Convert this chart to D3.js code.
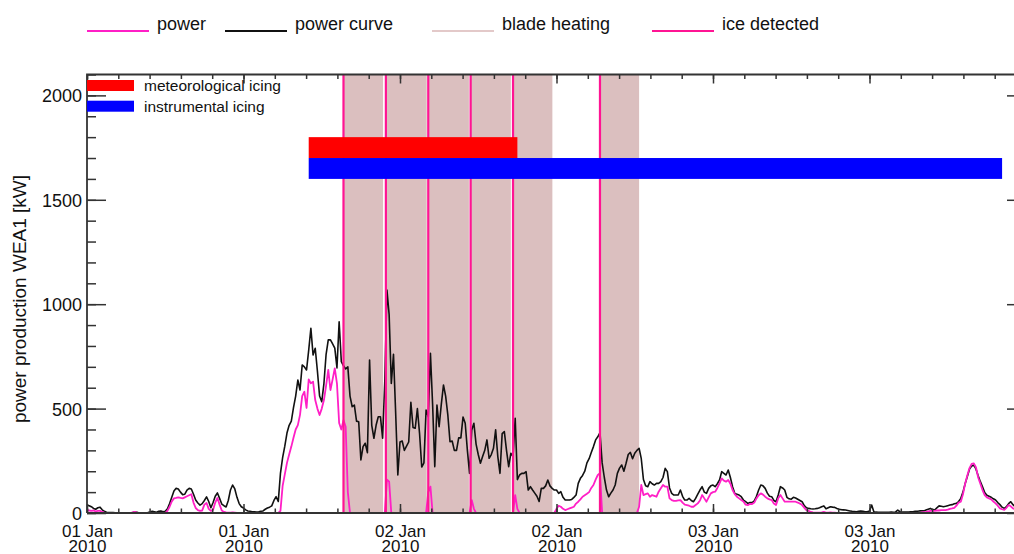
<!DOCTYPE html>
<html>
<head>
<meta charset="utf-8">
<script src="https://cdn.jsdelivr.net/npm/d3@7"></script>
<style>
body { margin: 0; background: #fff; }
svg { display: block; font-family: "Liberation Sans", Arial, Helvetica, sans-serif; }
</style>
</head>
<body>
<svg width="1014" height="554"></svg>
<script>
// 10-minute values, starting 01 Jan 2010 00:00 (UTC)
var startTime = '2010-01-01 00:00';
var endTime = '2010-01-04 00:00';
var stepMinutes = 10;

var powerCurve = [
  38, 35, 30, 22, 18, 25,   28, 15, 8, 4, 2, 2,   2, 1, 0, 0, 0, 0,   0, 0, 0, 2, 5, 3,
  0, 0, 0, 0, 2, 5,   8, 6, 4, 8, 10, 6,   8, 20, 45, 75, 105, 118,   115, 100, 88, 90, 110, 118,
  115, 90, 62, 48, 38, 45,   60, 77, 55, 25, 50, 80,   96, 70, 43, 35, 29, 60,   110, 134, 115, 75, 45, 30,
  24, 15, 10, 8, 6, 6,   5, 6, 8, 10, 18, 24,   28, 34, 60, 78, 55, 190,   265, 320, 383, 420, 440, 505,
  560, 637, 589, 709, 700, 685,   780, 885, 757, 789, 680, 560,   533, 620, 760, 829, 829, 810,   790, 695, 916, 725, 705, 690,
  700, 560, 509, 517, 440, 437,   254, 318, 334, 289, 733, 420,   358, 420, 461, 461, 358, 630,   1068, 950, 620, 760, 480, 182,
  340, 345, 300, 320, 340, 530,   410, 406, 500, 380, 220, 240,   493, 461, 765, 520, 222, 517,   413, 520, 613, 560, 470, 341,
  345, 300, 300, 360, 360, 460,   430, 300, 190, 398, 430, 330,   280, 238, 270, 300, 350, 262,   280, 310, 398, 270, 190, 380,
  390, 300, 222, 286, 270, 454,   160, 182, 190, 190, 198, 110,   126, 110, 95, 80, 55, 118,   118, 130, 158, 130, 118, 110,
  110, 94, 102, 75, 62, 62,   62, 65, 75, 86, 142, 166,   180, 200, 240, 260, 290, 318,   350, 365, 385, 240, 170, 110,
  78, 95, 110, 134, 190, 215,   230, 200, 238, 280, 290, 260,   286, 300, 310, 260, 160, 130,   126, 150, 140, 134, 142, 142,
  150, 170, 214, 198, 120, 94,   86, 86, 86, 110, 80, 62,   62, 70, 60, 54, 70, 90,   110, 126, 100, 94, 118, 130,
  134, 126, 140, 158, 198, 190,   182, 206, 170, 126, 94, 90,   86, 78, 62, 54, 46, 50,   50, 58, 80, 110, 134, 130,
  118, 95, 80, 78, 60, 54,   86, 126, 120, 110, 75, 68,   66, 75, 72, 66, 60, 54,   35, 25, 22, 20, 19, 20,
  22, 25, 30, 34, 20, 25,   30, 28, 27, 22, 18, 16,   15, 14, 12, 10, 8, 7,   6, 8, 10, 8, 6, 6,
  10, 38, 6, 4, 3, 3,   3, 3, 3, 3, 4, 3,   5, 14, 6, 4, 4, 5,   5, 6, 6, 8, 8, 10,
  10, 10, 14, 18, 22, 16,   14, 25, 34, 32, 30, 32,   35, 38, 40, 44, 46, 55,   70, 100, 140, 175, 210, 225,
  230, 210, 178, 150, 125, 98,   85, 80, 75, 68, 62, 50,   40, 28, 22, 30, 45, 54,   40, 30, 25, 20, 18, 15,
  15
];

var power = [
  14, 12, 10, 12, 8, 10,   10, 5, 2, 0, 0, 0,   0, 0, 0, 0, 0, 0,   0, 0, 0, 3, 5, 2,
  0, 0, 0, 0, 0, 0,   0, 0, 0, 0, 0, 0,   0, 10, 30, 55, 70, 72,   75, 72, 70, 75, 80, 85,
  90, 50, 24, 14, 10, 12,   40, 48, 20, 10, 15, 50,   72, 40, 12, 5, 3, 2,   2, 3, 2, 1, 0, 0,
  0, 0, 0, 0, 0, 0,   0, 0, 0, 0, 0, 0,   0, 0, 0, 0, 0, 10,   130, 185, 240, 280, 318, 360,
  400, 421, 470, 560, 581, 503,   640, 621, 629, 541, 500, 469,   500, 541, 610, 685, 589, 640,   693, 620, 431, 400, 445, 413,
  100, 0, 0, 0, 0, 0,   0, 0, 0, 0, 0, 0,   0, 0, 0, 0, 0, 0,   160, 150, 0, 0, 0, 0,
  0, 0, 0, 0, 0, 0,   0, 0, 0, 0, 0, 0,   0, 100, 126, 0, 0, 0,   0, 0, 0, 0, 0, 0,
  0, 0, 0, 0, 0, 0,   0, 0, 0, 62, 20, 0,   0, 0, 0, 0, 0, 0,   0, 0, 0, 0, 0, 0,
  0, 0, 0, 0, 0, 86,   20, 0, 0, 0, 0, 0,   0, 0, 0, 0, 0, 0,   0, 0, 0, 0, 0, 0,
  20, 35, 30, 20, 14, 18,   22, 26, 30, 45, 54, 65,   78, 85, 92, 100, 120, 134,   160, 182, 190, 0, 0, 0,
  0, 0, 0, 0, 0, 0,   0, 0, 0, 0, 0, 0,   0, 0, 30, 134, 86, 90,   94, 78, 86, 82, 78, 102,
  118, 134, 126, 126, 70, 62,   58, 58, 60, 62, 50, 40,   38, 35, 30, 30, 38, 46,   60, 86, 70, 54, 75, 94,
  100, 102, 120, 142, 166, 155,   150, 158, 140, 110, 90, 78,   70, 62, 55, 40, 38, 43,   43, 50, 70, 85, 94, 88,
  78, 70, 65, 62, 45, 38,   70, 86, 70, 54, 54, 54,   54, 54, 54, 50, 45, 38,   25, 14, 10, 5, 3, 2,
  2, 2, 3, 5, 2, 2,   3, 2, 2, 1, 0, 0,   0, 0, 0, 0, 0, 0,   0, 0, 0, 0, 0, 0,
  0, 0, 0, 0, 0, 0,   0, 0, 0, 0, 0, 0,   0, 0, 0, 0, 0, 0,   0, 0, 0, 0, 0, 0,
  3, 4, 5, 8, 10, 10,   10, 12, 12, 14, 14, 14,   16, 20, 22, 25, 35, 50,   54, 90, 140, 180, 215, 235,
  238, 218, 170, 140, 110, 86,   75, 70, 65, 55, 46, 35,   22, 18, 15, 25, 38, 32,   22, 18, 15, 12, 10, 8,
  8
];

var heatStart = ['2010-01-01 19:40', '2010-01-01 22:55', '2010-01-02 02:10', '2010-01-02 05:25', '2010-01-02 08:40', '2010-01-02 15:20'];
var heatEnd   = ['2010-01-01 22:42', '2010-01-02 02:03', '2010-01-02 05:17', '2010-01-02 08:30', '2010-01-02 11:41', '2010-01-02 18:20'];
var iceDetected = ['2010-01-01 19:40', '2010-01-01 22:55', '2010-01-02 02:10', '2010-01-02 05:25', '2010-01-02 08:40', '2010-01-02 15:20'];

var icingNames = ['meteorological icing', 'instrumental icing'];
var icingStart = ['2010-01-01 17:00', '2010-01-01 17:00'];
var icingEnd = ['2010-01-02 09:00', '2010-01-03 22:10'];
var icingLow = [1700, 1600];
var icingHigh = [1800, 1700];
var icingColors = ['#ff0000', '#0000ff'];

var yMajor = [0, 500, 1000, 1500, 2000];
var legendNames = ['power', 'power curve', 'blade heating', 'ice detected'];
var legendColors = ['#ff1fc6', '#111111', '#e3c9c9', '#ff1493'];
var legendX = [87, 225, 432, 652];

var parse = d3.utcParse('%Y-%m-%d %H:%M');
var t0 = parse(startTime);
var t1 = parse(endTime);

var pLeft = 87, pRight = 1026, pTop = 74.5, pBottom = 513;

var svg = d3.select('svg');
var x = d3.scaleUtc().domain([t0, t1]).range([pLeft, pRight]);
var y = d3.scaleLinear().domain([0, 2100]).range([pBottom, pTop]);

var timeAt = function (i) { return new Date(+t0 + i * stepMinutes * 60000); };

svg.append('clipPath').attr('id', 'plot')
  .append('rect').attr('x', pLeft).attr('y', pTop)
  .attr('width', pRight - pLeft).attr('height', pBottom - pTop);

var plot = svg.append('g').attr('clip-path', 'url(#plot)');

// blade heating periods
plot.selectAll('rect.heat')
  .data(heatStart)
  .enter().append('rect')
  .attr('class', 'heat')
  .attr('x', function (d) { return x(parse(d)); })
  .attr('y', pTop)
  .attr('width', function (d, i) { return x(parse(heatEnd[i])) - x(parse(d)); })
  .attr('height', pBottom - pTop)
  .style('fill', '#dbbfbf');

var line = d3.line()
  .x(function (d, i) { return x(timeAt(i)); })
  .y(function (d) { return y(d); });

plot.append('path').datum(powerCurve)
  .attr('d', line)
  .style('fill', 'none').style('stroke', '#111').style('stroke-width', 1.6)
  .style('stroke-linejoin', 'round');

plot.append('path').datum(power)
  .attr('d', line)
  .style('fill', 'none').style('stroke', '#ff1fc6').style('stroke-width', 1.8)
  .style('stroke-linejoin', 'round');

// ice detection events
plot.selectAll('line.ice')
  .data(iceDetected)
  .enter().append('line')
  .attr('x1', function (d) { return x(parse(d)); })
  .attr('x2', function (d) { return x(parse(d)); })
  .attr('y1', y(0)).attr('y2', pTop)
  .style('stroke', '#ff1493').style('stroke-width', 2.2);

// icing bars
plot.selectAll('rect.icing')
  .data(icingNames)
  .enter().append('rect')
  .attr('x', function (d, i) { return x(parse(icingStart[i])); })
  .attr('y', function (d, i) { return y(icingHigh[i]); })
  .attr('width', function (d, i) { return x(parse(icingEnd[i])) - x(parse(icingStart[i])); })
  .attr('height', function (d, i) { return y(icingLow[i]) - y(icingHigh[i]); })
  .style('fill', function (d, i) { return icingColors[i]; });

// axes
var axisColor = '#333';
var majorT = d3.utcHour.every(12).range(t0, t1);
var minorT = d3.range(0, 31).map(function (i) { return new Date(+t0 + i * 144 * 60000); });
var minorY = d3.range(0, 2101, 100);

function styleAxis(g) {
  g.select('.domain').remove();
  g.selectAll('line').style('stroke', axisColor).style('stroke-width', 1.5);
}

svg.append('g').attr('transform', 'translate(0,' + pBottom + ')')
  .call(d3.axisBottom(x).tickValues(minorT).tickSize(-4.5).tickFormat('')).call(styleAxis);
svg.append('g').attr('transform', 'translate(0,' + pTop + ')')
  .call(d3.axisTop(x).tickValues(minorT).tickSize(-4.5).tickFormat('')).call(styleAxis);
svg.append('g').attr('transform', 'translate(0,' + pTop + ')')
  .call(d3.axisTop(x).tickValues(majorT).tickSize(-9).tickFormat('')).call(styleAxis);

var xb = svg.append('g').attr('transform', 'translate(0,' + pBottom + ')')
  .call(d3.axisBottom(x).tickValues(majorT).tickSize(-9).tickFormat('')).call(styleAxis);
xb.selectAll('.tick text').remove();
var xl = xb.selectAll('.tick').append('text')
  .style('fill', '#111').style('font-size', '17px').attr('text-anchor', 'middle');
xl.append('tspan').attr('x', 0).attr('y', 24).text(d3.utcFormat('%d %b'));
xl.append('tspan').attr('x', 0).attr('y', 38.5).text(d3.utcFormat('%Y'));

svg.append('g').attr('transform', 'translate(' + pLeft + ',0)')
  .call(d3.axisLeft(y).tickValues(minorY).tickSize(-9).tickFormat('')).call(styleAxis);
var yl = svg.append('g').attr('transform', 'translate(' + pLeft + ',0)')
  .call(d3.axisLeft(y).tickValues(yMajor).tickSize(-19).tickPadding(5).tickFormat(d3.format('d')))
  .call(styleAxis);
yl.selectAll('text').style('font-size', '18px').style('fill', '#111')
  .attr('x', -5).attr('dy', '0.36em');
svg.append('g').attr('transform', 'translate(' + pRight + ',0)')
  .call(d3.axisRight(y).tickValues(minorY).tickSize(-9).tickFormat('')).call(styleAxis);
svg.append('g').attr('transform', 'translate(' + pRight + ',0)')
  .call(d3.axisRight(y).tickValues(yMajor).tickSize(-19).tickFormat('')).call(styleAxis);

// frame
svg.append('path')
  .attr('d', 'M' + pLeft + ',' + pBottom + 'V' + pTop + 'H' + pRight + 'M' + pLeft + ',' + pBottom + 'H' + pRight + 'V' + pTop)
  .style('fill', 'none').style('stroke', axisColor).style('stroke-width', 1.8);

svg.append('text')
  .attr('transform', 'translate(26,299) rotate(-90)')
  .attr('text-anchor', 'middle')
  .style('font-size', '19px').style('fill', '#111')
  .text('power production WEA1 [kW]');

// top legend
var lg = svg.selectAll('g.legend')
  .data(legendNames)
  .enter().append('g')
  .attr('transform', function (d, i) { return 'translate(' + legendX[i] + ',0)'; });
lg.append('line')
  .attr('x1', 0).attr('x2', 62).attr('y1', 31).attr('y2', 31)
  .style('stroke', function (d, i) { return legendColors[i]; }).style('stroke-width', 1.8);
lg.append('text')
  .attr('x', 70).attr('y', 30)
  .style('font-size', '18px').style('fill', '#111')
  .text(function (d) { return d; });

// icing legend
var il = svg.selectAll('g.ilegend')
  .data(icingNames)
  .enter().append('g')
  .attr('transform', function (d, i) { return 'translate(' + pLeft + ',' + (80 + i * 20.7) + ')'; });
il.append('rect')
  .attr('width', 47).attr('height', 11)
  .style('fill', function (d, i) { return icingColors[i]; });
il.append('text')
  .attr('x', 57).attr('y', 5.5).attr('dy', '0.35em')
  .style('font-size', '15.5px').style('fill', '#111')
  .text(function (d) { return d; });
</script>
</body>
</html>
